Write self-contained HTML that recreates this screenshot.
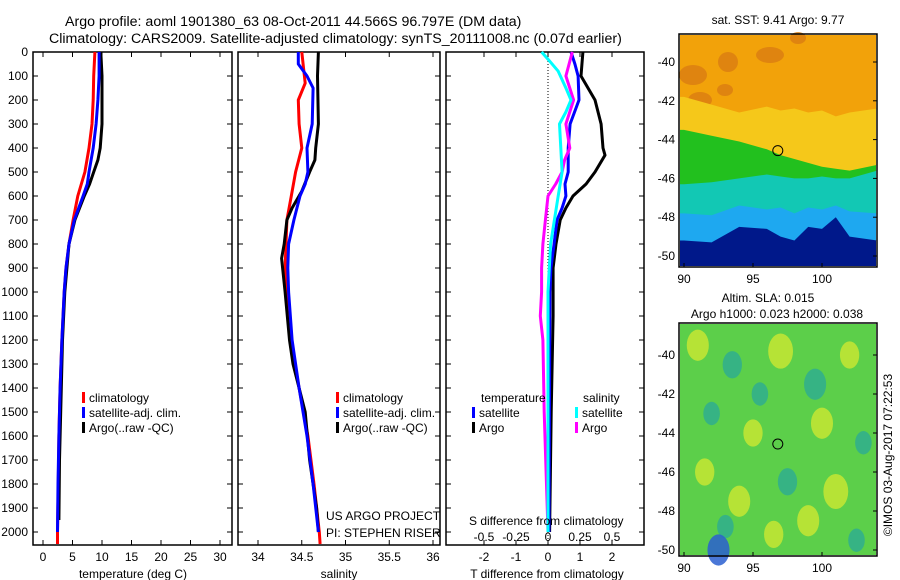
<!DOCTYPE html>
<html><head><meta charset="utf-8"><style>
html,body{margin:0;padding:0;background:#fff;}
svg{display:block;font-family:"Liberation Sans",sans-serif;}
</style></head><body>
<svg id="c" width="900" height="580" viewBox="0 0 900 580">
<rect width="900" height="580" fill="#fff"/>
<text x="65" y="26" font-size="14.2" text-anchor="start">Argo profile: aoml 1901380_63 08-Oct-2011 44.566S 96.797E (DM data)</text>
<text x="49" y="43" font-size="14.2" text-anchor="start">Climatology: CARS2009. Satellite-adjusted climatology: synTS_20111008.nc (0.07d earlier)</text>
<g id="g"></g>
</svg>
<script>
// ---------- data ----------
const depthTicks=[0,100,200,300,400,500,600,700,800,900,1000,1100,1200,1300,1400,1500,1600,1700,1800,1900,2000];
const tempTicks=[0,5,10,15,20,25,30];
const salTicks=[34,34.5,35,35.5,36];
const tdiffTicks=[-2,-1,0,1,2];
const sdiffTicks=[-0.5,-0.25,0,0.25,0.5];
const sdiffLabels=["-0.5","-0.25","0","0.25","0.5"];

const tClimDepth=[0,100,200,300,400,500,600,700,800,900,1000,1200,1400,1600,1800,2000,2050];
const tClim=[8.8,8.6,8.5,8.3,7.8,7.1,5.9,5.1,4.4,3.9,3.6,3.2,2.9,2.7,2.6,2.45,2.45];
const tSatDepth=[0,100,200,300,400,500,550,600,700,800,900,1000,1200,1400,1600,1800,2000];
const tSat=[9.5,9.5,9.3,9.0,8.5,7.8,7.5,6.8,5.3,4.4,3.9,3.6,3.2,2.9,2.7,2.55,2.45];
const tArgoDepth=[0,100,200,300,400,450,500,550,600,700,800,1000,1200,1500,1700,1950];
const tArgo=[9.8,10,10,10,9.7,9.3,8.6,7.9,7.0,5.4,4.4,3.7,3.3,3.0,2.8,2.7];

const sClimDepth=[0,100,130,200,300,400,500,600,700,800,900,1000,1200,1400,1600,1800,2000,2050];
const sClim=[34.50,34.53,34.54,34.46,34.47,34.50,34.43,34.38,34.33,34.32,34.31,34.32,34.37,34.47,34.57,34.64,34.70,34.71];
const sSatDepth=[0,50,100,150,300,400,500,550,600,700,800,900,1000,1200,1400,1600,1800,2000];
const sSat=[34.46,34.46,34.56,34.63,34.62,34.56,34.57,34.54,34.48,34.41,34.35,34.34,34.35,34.39,34.47,34.56,34.63,34.69];
const sArgoDepth=[0,100,300,400,450,500,580,650,700,800,860,1000,1200,1300,1400,1500,1700,1900,2000];
const sArgo=[34.69,34.68,34.69,34.66,34.65,34.59,34.50,34.39,34.33,34.30,34.27,34.31,34.36,34.40,34.47,34.54,34.59,34.67,34.69];

const dTArgoDepth=[0,100,200,300,400,430,500,550,600,650,700,800,900,1000,1100,1500,2000];
const dTArgo=[1.09,1.03,1.47,1.66,1.72,1.78,1.47,1.19,0.78,0.56,0.38,0.25,0.16,0.16,0.16,0.1,0.05];
const dTSatDepth=[0,50,100,200,300,400,500,550,600,650,700,800,900,1000,2000];
const dTSat=[0.72,0.84,0.94,0.97,0.69,0.63,0.63,0.53,0.56,0.44,0.28,0.19,0.09,0.06,0.03];
const dSSatDepth=[0,30,80,150,200,250,300,400,500,600,700,800,900,1000,2000];
const dSSat=[-0.05,0,0.08,0.14,0.18,0.14,0.09,0.1,0.11,0.08,0.05,0.02,0.01,0,0];
const dSArgoDepth=[0,100,200,300,400,450,500,550,600,650,700,800,900,1000,1100,1200,1500,2000];
const dSArgo=[0.19,0.14,0.2,0.14,0.17,0.13,0.11,0.06,0,-0.01,-0.02,-0.04,-0.05,-0.05,-0.06,-0.04,-0.03,0];

// SST map band boundaries (lat) per longitude
const mapLons=[90,92,94,96,97,98,99,100,101,102,104];
const yellowEdge=[-41.8,-42.2,-42.6,-42.3,-42.5,-42.4,-42.6,-42.5,-42.8,-42.6,-42.4];
const greenEdge=[-43.5,-43.8,-44.1,-44.5,-44.8,-45.0,-45.2,-45.4,-45.5,-45.6,-45.3];
const cyanEdge=[-46.3,-46.2,-46.0,-45.8,-45.9,-46.0,-46.0,-45.9,-46.0,-46.0,-45.6];
const blueEdge=[-47.8,-47.9,-47.4,-47.6,-47.5,-47.8,-47.5,-47.6,-47.4,-47.7,-47.8];
const darkEdge=[-49.2,-49.3,-48.5,-48.6,-49.0,-49.2,-48.5,-48.6,-48.0,-49.0,-49.2];
// SLA map blobs: lon, lat, radius(deg), value class
const blobLon=[91,93.5,97,99.5,102,92,95,100,103,91.5,94,97.5,101,93,96.5,99,102.5,92.5,95.5];
const blobLat=[-39.5,-40.5,-39.8,-41.5,-40,-43,-44,-43.5,-44.5,-46,-47.5,-46.5,-47,-48.8,-49.2,-48.5,-49.5,-50,-42];
const blobR=[0.8,0.7,0.9,0.8,0.7,0.6,0.7,0.8,0.6,0.7,0.8,0.7,0.9,0.6,0.7,0.8,0.6,0.8,0.6];
const blobCls=[1,2,1,2,1,2,1,1,2,1,1,2,1,2,1,1,2,3,2];

// ---------- drawing ----------
const NS="http://www.w3.org/2000/svg";
const G=document.getElementById('g');
function mk(t,a,parent){const e=document.createElementNS(NS,t);for(const k in a)e.setAttribute(k,a[k]);(parent||G).appendChild(e);return e;}
const Y=d=>52+0.24*d;
const PT={x0:33,x1:232,f:v=>43+5.9*v};
const PS={x0:238,x1:440,f:v=>258+87.5*(v-34)};
const PD={x0:446,x1:644,f:v=>548+32*v, fs:v=>548+128*v};
const yTop=52,yBot=545;

function frame(p,name){
  const r=mk('rect',{x:p.x0,y:yTop,width:p.x1-p.x0,height:yBot-yTop,fill:'none',stroke:'#000','stroke-width':1.5});
  
  
  depthTicks.forEach(d=>{
    mk('line',{x1:p.x0,x2:p.x0+5,y1:Y(d),y2:Y(d),stroke:'#000'});
    mk('line',{x1:p.x1,x2:p.x1-5,y1:Y(d),y2:Y(d),stroke:'#000'});
  });
}
function xticks(p,ticks,fn,labels,ly,name){
  ticks.forEach((v,i)=>{
    const x=fn(v);
    mk('line',{x1:x,x2:x,y1:yTop,y2:yTop+5,stroke:'#000'});
    mk('line',{x1:x,x2:x,y1:yBot,y2:yBot-5,stroke:'#000'});
    const t=mk('text',{x:x,y:ly,'font-size':12,'text-anchor':'middle'});
    t.textContent=labels?labels[i]:String(v);
    
    
  });
}
frame(PT,'temperature-panel');frame(PS,'salinity-panel');frame(PD,'difference-panel');
depthTicks.forEach(d=>{
  const t=mk('text',{x:28,y:Y(d)+4,'font-size':12,'text-anchor':'end'});t.textContent=d;
  
  
});
xticks(PT,tempTicks,PT.f,null,561,'temperature-tick-label');
xticks(PS,salTicks,PS.f,null,561,'salinity-tick-label');
xticks(PD,tdiffTicks,PD.f,null,561,'tdiff-tick-label');
sdiffTicks.forEach((v,i)=>{
  const t=mk('text',{x:PD.fs(v),y:541,'font-size':12,'text-anchor':'middle'});t.textContent=sdiffLabels[i];
  
  
});
mk('line',{x1:PD.f(0),x2:PD.f(0),y1:yTop,y2:yBot,stroke:'#000','stroke-dasharray':'1,2'});

function line(depths,vals,fx,color,name){
  const pts=depths.map((d,i)=>fx(vals[i]).toFixed(1)+','+Y(d).toFixed(1)).join(' ');
  const e=mk('polyline',{points:pts,fill:'none',stroke:color,'stroke-width':3,'stroke-linejoin':'round'});
  
  
}
line(tClimDepth,tClim,PT.f,'#f00','temp-climatology-line');
line(tArgoDepth,tArgo,PT.f,'#000','temp-argo-line');
line(tSatDepth,tSat,PT.f,'#00f','temp-satellite-line');
line(sClimDepth,sClim,PS.f,'#f00','sal-climatology-line');
line(sArgoDepth,sArgo,PS.f,'#000','sal-argo-line');
line(sSatDepth,sSat,PS.f,'#00f','sal-satellite-line');
line(dTArgoDepth,dTArgo,PD.f,'#000','tdiff-argo-line');
line(dTSatDepth,dTSat,PD.f,'#00f','tdiff-satellite-line');
line(dSArgoDepth,dSArgo,PD.fs,'#f0f','sdiff-argo-line');
line(dSSatDepth,dSSat,PD.fs,'#0ff','sdiff-satellite-line');

function txt(x,y,s,name,size,anchor){const t=mk('text',{x:x,y:y,'font-size':size||12,'text-anchor':anchor||'start'});t.textContent=s;
  
  return t;}
function leg(x,y,c,s,name){mk('rect',{x:x,y:y-10,width:3,height:11,fill:c});txt(x+7,y,s,name);}
leg(82,402,'#f00','climatology','legend-climatology');
leg(82,417,'#00f','satellite-adj. clim.','legend-satellite');
leg(82,432,'#000','Argo(..raw -QC)','legend-argo');
leg(336,402,'#f00','climatology','legend-climatology-2');
leg(336,417,'#00f','satellite-adj. clim.','legend-satellite-2');
leg(336,432,'#000','Argo(..raw -QC)','legend-argo-2');
txt(481,402,'temperature','legend-temperature-heading');
leg(472,417,'#00f','satellite','legend-t-satellite');
leg(472,432,'#000','Argo','legend-t-argo');
txt(583,402,'salinity','legend-salinity-heading');
leg(575,417,'#0ff','satellite','legend-s-satellite');
leg(575,432,'#f0f','Argo','legend-s-argo');
txt(326,520,'US ARGO PROJECT','project-label');
txt(326,537,'PI: STEPHEN RISER','pi-label');
txt(469,525,'S difference from climatology','sdiff-axis-title');
txt(133,578,'temperature (deg C)','temp-axis-title',12,'middle');
txt(339,578,'salinity','salinity-axis-title',12,'middle');
txt(547,578,'T difference from climatology','tdiff-axis-title',12,'middle');

// ---------- maps ----------
const LX=lon=>684+13.8*(lon-90);
function mapAxes(yy0,yy1,latY,name){
  const r=mk('rect',{x:679,y:yy0,width:198,height:yy1-yy0,fill:'none',stroke:'#000','stroke-width':1.5});
  
  
  [90,95,100].forEach(l=>{mk('line',{x1:LX(l),x2:LX(l),y1:yy1,y2:yy1-4,stroke:'#000'});
    txt(LX(l),yy1+16,String(l),'map-lon-label',12,'middle');});
  [-40,-42,-44,-46,-48,-50].forEach(l=>{mk('line',{x1:877,x2:873,y1:latY(l),y2:latY(l),stroke:'#000'});
    txt(675,latY(l)+4,String(l),'map-lat-label',12,'end');});
}
const Y1=lat=>62+(-40-lat)*19.4;
function band(edge,c){
  let p=`680,${Y1(edge[0])} `+mapLons.map((l,i)=>LX(l)+','+Y1(edge[i])).join(' ')+` 876,${Y1(edge[edge.length-1])} 876,266 680,266`;
  mk('polygon',{points:p,fill:c});
}
mk('rect',{x:680,y:35,width:196,height:231,fill:'#f2a20a'});
[[693,75,14,10],[700,100,12,8],[728,62,10,10],[770,55,14,8],[798,38,8,6],[725,90,8,6]].forEach(b=>mk('ellipse',{cx:b[0],cy:b[1],rx:b[2],ry:b[3],fill:'#d97d12',opacity:0.8}));
band(yellowEdge,'#f5c81a');
band(greenEdge,'#22c01e');
band(cyanEdge,'#12c8b4');
band(blueEdge,'#1ea8f0');
band(darkEdge,'#00188a');
mapAxes(34,267,Y1,'sst-map');
mk('circle',{cx:LX(96.797),cy:Y1(-44.566),r:5,fill:'none',stroke:'#000'});
txt(778,24,'sat. SST: 9.41  Argo: 9.77','sst-map-title',12,'middle');
txt(768,302,'Altim. SLA: 0.015','sla-map-title',12,'middle');
txt(777,318,'Argo h1000: 0.023 h2000: 0.038','sla-map-subtitle',12,'middle');

const Y2=lat=>355+(-40-lat)*19.5;
mk('rect',{x:680,y:324,width:196,height:231,fill:'#5ccf4a'});
const blobCol=['#5ccf4a','#c6e632','#2fae8e','#2a5fd0'];
blobLon.forEach((l,i)=>{
  const e=mk('ellipse',{cx:LX(l),cy:Y2(blobLat[i]),rx:blobR[i]*13.8,ry:blobR[i]*19.5,fill:blobCol[blobCls[i]],opacity:0.85});
  
  
});
mapAxes(323,556,Y2,'sla-map');
mk('circle',{cx:LX(96.797),cy:Y2(-44.566),r:5,fill:'none',stroke:'#000'});
const c=txt(0,0,'©IMOS 03-Aug-2017 07:22:53','imos-credit',12,'middle');
c.setAttribute('transform','translate(892,455) rotate(-90)');
</script>
</body></html>
